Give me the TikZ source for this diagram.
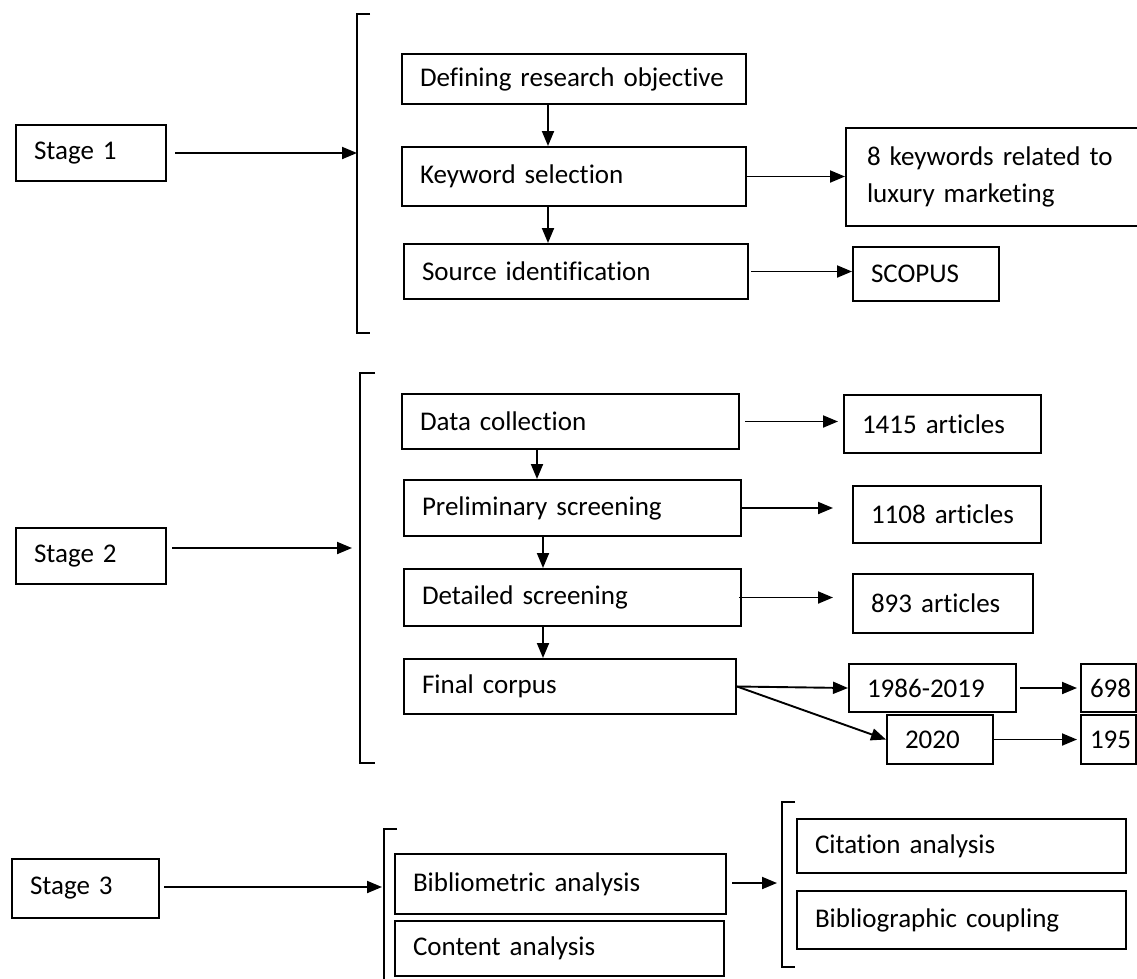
\documentclass[tikz,border=0pt]{standalone}
\usepackage{fontspec}
\setmainfont{Carlito}[Ligatures={NoCommon,NoRare,NoDiscretionary,NoContextual}]
\usetikzlibrary{arrows.meta,calc}
\tikzset{
  box/.style={draw, line width=2pt, inner xsep=18pt, inner ysep=0pt, align=left, font=\fontsize{27}{37}\selectfont},
  arr/.style={line width=1.9pt, -{Triangle[length=15pt,width=12pt]}},
  brk/.style={line width=2pt},
}
\newcommand{\mybox}[7][18]{%
  \pgfmathsetmacro{\myH}{#6-#4}\pgfmathsetmacro{\myT}{#5-#3-2*#1}%
  \node[box, inner xsep=#1pt, anchor=north west, minimum height=\myH pt, text width=\myT pt] (#2) at (#3,#4) {#7};}
\begin{document}
\begin{tikzpicture}[x=1pt,y=-1pt]
\useasboundingbox (0,0) rectangle (1137,978);
% ---------- Stage 1
\mybox{s1}{15}{124}{165}{180}{Stage 1}
\mybox{def}{401}{53}{745}{103}{Defining research objective}
\mybox{kw}{401}{146}{745}{205}{Keyword selection}
\mybox{src}{403}{243}{747}{298}{Source identification}
\mybox[21]{kwl}{845}{127}{1150}{225}{8 keywords related to\\luxury marketing}
\mybox{sco}{852}{246}{998}{300}{SCOPUS}
\draw[brk] (370,14) -- (357,14) -- (357,333) -- (370,333);
\coordinate (b1) at (357,152);
\coordinate (v1) at (548,0);
\draw[arr, shorten <=8pt] (s1.east) -- (s1.east -| b1);
\draw[arr] (def.south -| v1) -- (kw.north -| v1);
\draw[arr] (kw.south -| v1) -- (src.north -| v1);
\draw[arr] (kw.east) -- (kw.east -| kwl.west);
\draw[arr, shorten <=2pt] (src.east) -- (src.east -| sco.west);
% ---------- Stage 2
\mybox{s2}{15}{527}{165}{583}{Stage 2}
\mybox{dc}{401}{393}{738}{448}{Data collection}
\mybox{ps}{403}{479}{740}{535}{Preliminary screening}
\mybox{ds}{403}{568}{740}{625}{Detailed screening}
\mybox{fc}{403}{658}{735}{713}{Final corpus}
\mybox{a1}{843}{394}{1040}{452}{1415 articles}
\mybox{a2}{852}{485}{1040}{542}{1108 articles}
\mybox{a3}{852}{573}{1032}{632}{893 articles}
\mybox{y1}{848}{663}{1015}{711}{1986-2019}
\mybox[9]{n1}{1080}{663}{1135}{711}{698}
\mybox{y2}{886}{714}{992}{763}{2020}
\mybox[9]{n2}{1080}{714}{1135}{763}{195}
\draw[brk] (375,373) -- (360,373) -- (360,763) -- (375,763);
\coordinate (b2) at (352,548);
\coordinate (v2) at (537,0);
\coordinate (v3) at (543,0);
\draw[arr, shorten <=5pt] (s2.east |- b2) -- (b2);
\draw[arr] (dc.south -| v2) -- (ps.north -| v2);
\draw[arr] (ps.south -| v3) -- (ds.north -| v3);
\draw[arr] (ds.south -| v3) -- (fc.north -| v3);
\draw[arr, shorten <=5pt, shorten >=5pt] (dc.east) -- (dc.east -| a1.west);
\draw[arr, shorten >=19pt] (ps.east) -- (ps.east -| a2.west);
\draw[arr, shorten <=-3pt, shorten >=19pt] (ds.east) -- (ds.east -| a3.west);
\draw[arr] (fc.east) -- (y1.west);
\draw[arr] (fc.east) -- (y2.west);
\draw[arr, shorten <=3pt, shorten >=3pt] (y1.east) -- (y1.east -| n1.west);
\draw[arr, shorten >=3pt] (y2.east) -- (y2.east -| n2.west);
% ---------- Stage 3
\mybox{s3}{11}{858}{158}{917}{Stage 3}
\mybox{bib}{394}{853}{725}{913}{Bibliometric analysis}
\mybox{con}{394}{920}{723}{975}{Content analysis}
\mybox{cit}{796}{818}{1125}{872}{Citation analysis}
\mybox{bc}{796}{890}{1125}{948}{Bibliographic coupling}
\draw[brk] (397,829) -- (384,829) -- (384,980);
\draw[brk] (795,802) -- (782,802) -- (782,967) -- (795,967);
\coordinate (b3) at (382,887);
\coordinate (b4) at (777,883);
\draw[arr, shorten <=4pt] (s3.east |- b3) -- (b3);
\draw[arr, shorten <=5pt] (bib.east |- b4) -- (b4);
\end{tikzpicture}
\end{document}
